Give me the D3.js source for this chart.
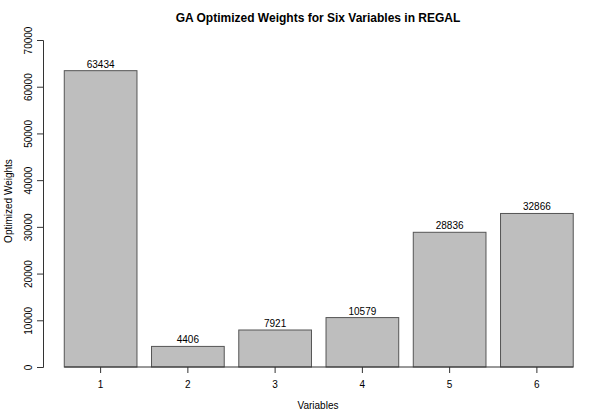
<!DOCTYPE html>
<html>
<head>
<meta charset="utf-8">
<script src="https://cdn.jsdelivr.net/npm/d3@7"></script>
<style>
  body { margin: 0; background: #fff; }
  text { font-family: "Liberation Sans", Arial, sans-serif; fill: #000; }
</style>
</head>
<body>
<svg id="chart"></svg>
<script>
// bar data
const variables = ["1", "2", "3", "4", "5", "6"];
const weights = [63434, 4406, 7921, 10579, 28836, 32866];
const yTicks = [0, 10000, 20000, 30000, 40000, 50000, 60000, 70000];

const width = 600, height = 413;
const svg = d3.select("#chart")
  .attr("width", width)
  .attr("height", height);

// bar area runs from first bar's left edge to last bar's right edge
const x = d3.scaleBand()
  .domain(variables)
  .range([57, 580.5])
  .paddingInner(0.1667)
  .paddingOuter(0.0833);

const y = d3.scaleLinear()
  .domain([0, 70000])
  .range([367, 40]);

// y axis, labels rotated like R's default
const yAxis = svg.append("g")
  .attr("transform", "translate(43,0)")
  .call(d3.axisLeft(y).tickValues(yTicks).tickSize(6).tickFormat(d3.format("d")));
yAxis.select(".domain").attr("stroke", "#333");
yAxis.selectAll(".tick line").attr("stroke", "#333");
yAxis.selectAll(".tick text")
  .attr("font-size", 10)
  .attr("transform", "rotate(-90)")
  .attr("x", 0)
  .attr("y", -11)
  .attr("dy", "0")
  .attr("text-anchor", "middle");

// bars
svg.selectAll(".bar")
  .data(weights)
  .enter().append("rect")
  .attr("class", "bar")
  .attr("x", (d, i) => x(variables[i]))
  .attr("y", d => y(d))
  .attr("width", x.bandwidth())
  .attr("height", d => y(0) - y(d))
  .attr("fill", "#bebebe")
  .attr("stroke", "#555")
  .attr("stroke-width", 1);

// value labels
svg.selectAll(".val")
  .data(weights)
  .enter().append("text")
  .attr("class", "val")
  .attr("x", (d, i) => x(variables[i]) + x.bandwidth() / 2)
  .attr("y", d => y(d) - 3)
  .attr("text-anchor", "middle")
  .attr("font-size", 10)
  .text(d => d);

// x axis baseline and ticks
const first = x(variables[0]);
const last = x(variables[variables.length - 1]) + x.bandwidth();
svg.append("line")
  .attr("x1", first).attr("x2", last)
  .attr("y1", y(0)).attr("y2", y(0))
  .attr("stroke", "#333");

const xAxis = svg.append("g")
  .attr("transform", `translate(0,${y(0)})`)
  .call(d3.axisBottom(x).tickSize(6).tickPadding(8));
xAxis.select(".domain").remove();
xAxis.selectAll(".tick line").attr("stroke", "#333");
xAxis.selectAll(".tick text").attr("font-size", 10);

// labels
svg.append("text")
  .attr("x", 318)
  .attr("y", 22)
  .attr("text-anchor", "middle")
  .attr("font-size", 12)
  .attr("font-weight", "bold")
  .text("GA Optimized Weights for Six Variables in REGAL");

svg.append("text")
  .attr("x", 318)
  .attr("y", 409)
  .attr("text-anchor", "middle")
  .attr("font-size", 10)
  .text("Variables");

svg.append("text")
  .attr("transform", "rotate(-90)")
  .attr("x", -201)
  .attr("y", 12)
  .attr("text-anchor", "middle")
  .attr("font-size", 10)
  .text("Optimized Weights");
</script>
</body>
</html>
